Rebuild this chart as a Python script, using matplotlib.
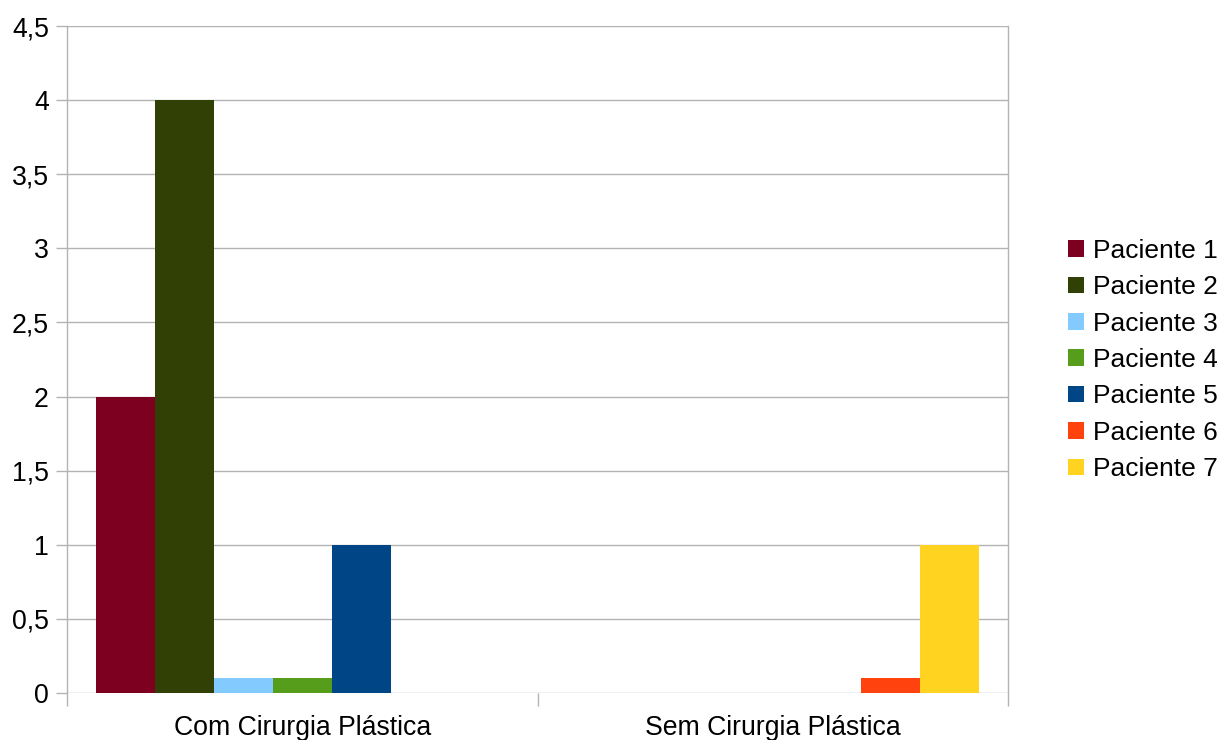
import matplotlib
matplotlib.use("Agg")
import matplotlib.pyplot as plt
from matplotlib.patches import Patch
import numpy as np

plt.rcParams['font.family'] = ['Liberation Sans', 'DejaVu Sans']

categories = ["Com Cirurgia Plástica", "Sem Cirurgia Plástica"]
series_names = ["Paciente 1", "Paciente 2", "Paciente 3", "Paciente 4",
                "Paciente 5", "Paciente 6", "Paciente 7"]
paciente_1 = [2, 0]
paciente_2 = [4, 0]
paciente_3 = [0.1, 0]
paciente_4 = [0.1, 0]
paciente_5 = [1, 0]
paciente_6 = [0, 0.1]
paciente_7 = [0, 1]
series_values = [paciente_1, paciente_2, paciente_3, paciente_4,
                 paciente_5, paciente_6, paciente_7]
colors = ["#7E0021", "#314004", "#83CAFF", "#579D1C",
          "#004586", "#FF420E", "#FFD320"]
y_ticks = [0, 0.5, 1, 1.5, 2, 2.5, 3, 3.5, 4, 4.5]
y_tick_labels = ["0", "0,5", "1", "1,5", "2", "2,5", "3", "3,5", "4", "4,5"]

grid_color = "#b3b3b3"
fs = 19.2

fig = plt.figure(figsize=(12.2, 7.4), dpi=100)
ax = fig.add_axes([67/1220, 1-693/740, (1008-67)/1220, (693-26)/740])

x = np.arange(len(categories))
n = len(series_names)
w = 0.878 / n
for i, (name, vals, c) in enumerate(zip(series_names, series_values, colors)):
    ax.bar(x + (i - (n - 1) / 2) * w, vals, width=w, color=c, label=name,
           zorder=3, linewidth=0)

ax.set_xlim(-0.5, len(categories) - 0.5)
ax.set_ylim(0, 4.5)
ax.set_yticks(y_ticks)
ax.set_yticklabels(y_tick_labels, fontsize=fs)
ax.set_xticks([-0.5, 0.5, 1.5], minor=False)
ax.set_xticklabels([])
ax.set_xticks(x, minor=True)
ax.set_xticklabels(categories, minor=True, fontsize=fs)
ax.tick_params(axis='x', which='major', length=9, width=1.0, color=grid_color,
               direction='out')
ax.tick_params(axis='x', which='minor', length=0, pad=16)
ax.tick_params(axis='y', length=8, width=1.0, color=grid_color, pad=5)
ax.yaxis.grid(True, color=grid_color, linewidth=1.0, zorder=0)
ax.set_axisbelow(True)

for side in ("top", "bottom"):
    ax.spines[side].set_visible(False)
for side in ("left", "right"):
    ax.spines[side].set_color(grid_color)
    ax.spines[side].set_linewidth(1.0)

handles = [Patch(facecolor=c, edgecolor='none', label=nm)
           for nm, c in zip(series_names, colors)]
fig.legend(handles=handles, loc='center left', bbox_to_anchor=(1068/1220, 1-360/740),
           frameon=False, fontsize=19, borderpad=0, borderaxespad=0,
           handlelength=0.6, handleheight=0.6, handletextpad=0.36,
           labelspacing=0.47)

fig.savefig("out.png", dpi=100)
